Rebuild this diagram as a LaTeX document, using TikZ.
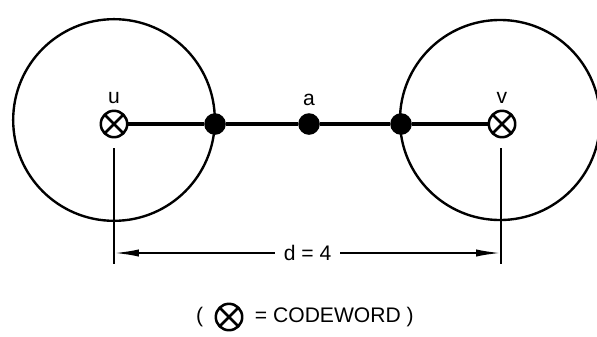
\documentclass[tikz,border=0pt]{standalone}
\usepackage{fontspec}
\setmainfont{Liberation Sans}
\usetikzlibrary{positioning, arrows.meta}

\tikzset{
  codeword/.style={circle, draw, line width=1.8pt, minimum size=0.66cm, inner sep=0pt,
    path picture={\draw[line width=1.8pt]
      (path picture bounding box.north west) -- (path picture bounding box.south east)
      (path picture bounding box.north east) -- (path picture bounding box.south west);}},
  point/.style={circle, fill, minimum size=0.54cm, inner sep=0pt},
  lbl/.style={font=\fontsize{15}{18}\selectfont},
}

\begin{document}
\begin{tikzpicture}[x=0.025cm, y=-0.025cm, >=Stealth]
	\useasboundingbox (0,0) rectangle (597,336);

	% --- spheres around the codewords ---
	\coordinate (uc) at (114,120);
	\coordinate (vc) at (500,120);
	\draw[line width=1.7pt] (uc) circle[radius=2.52cm];
	\draw[line width=1.7pt] (vc) circle[radius=2.5cm];

	% --- codewords and points on the path ---
	\node[codeword] (u) at (114,124) {};
	\node[codeword] (v) at (502,124) {};
	\node[point] (p) at (215,124) {};
	\node[point] (a) at (309,124) {};
	\node[point] (q) at (401,124) {};
	\draw[line width=2.8pt] (u) -- (p) -- (a) -- (q) -- (v);

	\node[lbl] (ulbl) at (114,98) {u};
	\node[lbl] (albl) at (309,100) {a};
	\node[lbl] (vlbl) at (502,98) {v};

	% --- distance ---
	\coordinate (ut) at (114,148);
	\coordinate (ub) at (114,264);
	\coordinate (vt) at (501,148);
	\coordinate (vb) at (501,264);
	\draw[line width=1.6pt] (ut) -- (ub);
	\draw[line width=1.6pt] (vt) -- (vb);
	\coordinate (dl) at (114,253);
	\coordinate (dr) at (501,253);
	\draw[{Latex[length=0.62cm,width=0.18cm]}-{Latex[length=0.62cm,width=0.18cm]}, line width=1.4pt]
		(dl) -- (dr) node[midway, fill=white, lbl, inner xsep=0.22cm] (d) {d = 4};

	% --- key ---
	\node[codeword] (key) at (229,317) {};
	\node[lbl, inner sep=0pt, left=0.28cm of key] (kl) {(};
	\node[lbl, inner sep=0pt, right=0.28cm of key] (kr) {= CODEWORD )};
\end{tikzpicture}
\end{document}
